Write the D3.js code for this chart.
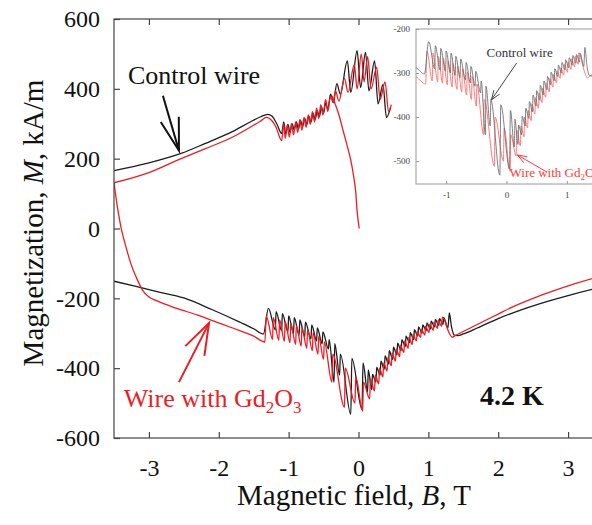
<!DOCTYPE html>
<html>
<head>
<meta charset="utf-8">
<script src="https://cdn.jsdelivr.net/npm/d3@7"></script>
</head>
<body style="margin:0">
<svg id="chart" width="592" height="525"></svg>
<script>
// axis ticks
const bTicks = [-3, -2, -1, 0, 1, 2, 3];
const mTicks = [-600, -400, -200, 0, 200, 400, 600];
const insetBTicks = [-1, 0, 1];
const insetMTicks = [-500, -400, -300, -200];

// upper branches [B (T), M (kA/m)]
const controlUpper = [
  [-3.5,166],[-3.0,188],[-2.54,215],[-2.2,243],[-1.8,278],[-1.55,305],[-1.4,320],[-1.3,327],[-1.24,322],[-1.17,300],[-1.1,272],
  [-1.07,305],[-1.04,270],[-1.01,298],[-0.98,275],[-0.95,300],[-0.92,282],[-0.89,305],[-0.86,285],[-0.83,310],[-0.80,292],
  [-0.77,316],[-0.74,298],[-0.71,322],[-0.68,305],[-0.65,330],[-0.62,312],[-0.59,338],[-0.56,320],[-0.53,348],[-0.50,330],
  [-0.47,360],[-0.44,340],[-0.40,385],[-0.36,360],[-0.31,415],[-0.26,385],[-0.16,480],[-0.11,390],[-0.02,509],[0.03,404],
  [0.10,504],[0.15,394],[0.23,480],[0.28,357],[0.35,413],[0.40,318],[0.46,347]
];
const gdUpper = [
  [-3.5,131],[-3.0,160],[-2.54,200],[-2.2,228],[-1.8,262],[-1.55,290],[-1.4,308],[-1.32,318],[-1.26,313],[-1.18,290],[-1.1,252],
  [-1.07,300],[-1.05,258],[-1.02,295],[-0.99,262],[-0.96,300],[-0.93,268],[-0.90,305],[-0.87,275],[-0.84,312],[-0.81,282],
  [-0.78,318],[-0.75,290],[-0.72,325],[-0.69,298],[-0.66,335],[-0.63,305],[-0.60,345],[-0.57,315],[-0.54,355],[-0.51,325],
  [-0.47,370],[-0.44,335],[-0.40,378],[-0.36,362],[-0.33,395],[-0.28,365],[-0.20,430],[-0.15,390],[-0.06,470],[-0.02,400],
  [0.04,500],[0.08,420],[0.13,492],[0.18,400],[0.26,462],[0.31,370],[0.38,420],[0.43,335],[0.47,355]
];
const gdVirgin = [
  [-0.38,380],[-0.34,360],[-0.28,325],[-0.22,280],[-0.16,235],[-0.11,195],[-0.07,150],[-0.04,105],[-0.02,50],[0.01,0]
];

// lower branches
const controlLower = [
  [-3.5,-151],[-3.2,-165],[-2.9,-180],[-2.5,-199],[-2.1,-232],[-1.7,-268],[-1.5,-287],[-1.36,-302],
  [-1.29,-229],[-1.19,-290],[-1.18,-238],[-1.10,-293],[-1.09,-244],[-1.01,-296],[-1.00,-250],[-0.93,-300],[-0.92,-255],
  [-0.85,-305],[-0.84,-262],[-0.77,-310],[-0.76,-268],[-0.68,-316],[-0.67,-276],[-0.60,-322],[-0.59,-285],[-0.52,-330],
  [-0.51,-296],[-0.43,-345],[-0.42,-318],
  [-0.35,-440],[-0.34,-330],[-0.27,-420],[-0.26,-360],[-0.11,-532],[-0.095,-372],[0.05,-518],[0.065,-385],[0.13,-468],[0.14,-405],
  [0.19,-462],[0.20,-418],[0.25,-440],[0.26,-398],[0.31,-420],[0.32,-380],[0.37,-403],[0.38,-365],[0.43,-388],[0.44,-350],
  [0.49,-375],[0.50,-340],[0.55,-362],[0.56,-328],[0.61,-350],[0.62,-318],[0.67,-338],[0.68,-308],[0.73,-327],[0.74,-298],
  [0.79,-318],[0.80,-290],[0.85,-308],[0.86,-282],[0.91,-300],[0.92,-276],[0.97,-293],[0.98,-270],[1.03,-288],[1.04,-265],
  [1.09,-282],[1.10,-260],[1.15,-278],[1.16,-258],[1.21,-275],[1.22,-255],[1.28,-285],[1.30,-242],[1.33,-280],[1.37,-305],
  [1.42,-307],[1.5,-302],[1.7,-285],[2.0,-258],[2.3,-235],[2.6,-215],[3.0,-192],[3.35,-174],[3.5,-167]
];
const gdLower = [
  [-3.5,131],[-3.45,60],[-3.4,3],[-3.33,-52],[-3.26,-100],[-3.17,-145],[-3.09,-177],[-3.0,-196],[-2.9,-206],[-2.6,-229],
  [-2.3,-248],[-2.1,-263],[-1.8,-285],[-1.5,-308],[-1.34,-325],
  [-1.32,-250],[-1.23,-318],[-1.22,-255],[-1.14,-320],[-1.13,-262],[-1.06,-323],[-1.05,-266],[-0.98,-327],[-0.97,-272],
  [-0.90,-332],[-0.89,-278],[-0.82,-337],[-0.81,-284],[-0.74,-343],[-0.73,-290],[-0.66,-350],[-0.65,-298],[-0.58,-360],
  [-0.57,-308],[-0.50,-375],[-0.49,-325],
  [-0.38,-440],[-0.37,-360],[-0.20,-512],[-0.19,-400],[-0.05,-500],[-0.04,-425],[0.06,-523],[0.07,-440],[0.16,-488],[0.17,-430],
  [0.23,-465],[0.24,-420],[0.29,-445],[0.30,-400],[0.35,-425],[0.36,-385],[0.41,-408],[0.42,-370],[0.47,-393],[0.48,-356],
  [0.53,-380],[0.54,-345],[0.59,-367],[0.60,-334],[0.65,-355],[0.66,-322],[0.71,-343],[0.72,-312],[0.77,-332],[0.78,-303],
  [0.83,-322],[0.84,-295],[0.89,-312],[0.90,-288],[0.95,-305],[0.96,-280],[1.01,-298],[1.02,-274],[1.07,-292],[1.08,-268],
  [1.13,-286],[1.14,-262],[1.19,-280],[1.20,-254],[1.30,-300],[1.34,-311],[1.4,-305],[1.6,-285],[1.8,-265],[2.0,-245],
  [2.2,-225],[2.5,-200],[2.8,-178],[3.1,-158],[3.35,-143],[3.5,-135]
];

const BLACK = "#1c1c1c", RED = "#ec1c24";
const SERIF = '"Liberation Serif", serif';
const fmt = d => String(d); // plain hyphen minus as in the original

const svg = d3.select("#chart");

svg.append("rect").attr("width", 592).attr("height", 525).attr("fill", "#fff");

// main plot scales
const x = d3.scaleLinear().domain([-3.5, 3.5]).range([114, 603]);
const y = d3.scaleLinear().domain([-600, 600]).range([438, 19]);

svg.append("clipPath").attr("id", "mainClip")
  .append("rect").attr("x", 114).attr("y", 19).attr("width", 489).attr("height", 419);

const line = d3.line().x(d => x(d[0])).y(d => y(d[1])).curve(d3.curveMonotoneX);
const curves = svg.append("g").attr("clip-path", "url(#mainClip)")
    .attr("fill", "none").attr("stroke-width", 1.3).attr("stroke-linejoin", "round");

curves.append("path").attr("d", line(controlUpper)).attr("stroke", BLACK);
curves.append("path").attr("d", line(controlLower)).attr("stroke", BLACK);
curves.append("path").attr("d", line(gdUpper)).attr("stroke", RED);
curves.append("path").attr("d", line(gdLower)).attr("stroke", RED);
curves.append("path").attr("d", line(gdVirgin)).attr("stroke", RED);

// frame + axes
svg.append("rect").attr("x", 114).attr("y", 19).attr("width", 489).attr("height", 419)
    .attr("fill", "none").attr("stroke", "#444").attr("stroke-width", 1.2);

const axisStyle = g => {
  g.attr("font-family", SERIF);
  g.select(".domain").remove();
  g.selectAll(".tick line").attr("stroke", "#444").attr("stroke-width", 1.2);
  g.selectAll("text").attr("font-size", 24).attr("fill", "#111").attr("font-family", SERIF);
};

svg.append("g").attr("transform", "translate(114,0)")
  .call(d3.axisLeft(y).tickValues(mTicks).tickSize(-6).tickPadding(14).tickFormat(fmt))
  .call(axisStyle);

svg.append("g").attr("transform", "translate(0,438)")
  .call(d3.axisBottom(x).tickValues(bTicks).tickSize(-6).tickPadding(21).tickFormat(fmt))
  .call(axisStyle);

svg.append("g").attr("transform", "translate(0,19)")
  .call(d3.axisTop(x).tickValues(bTicks).tickSize(-6).tickFormat(""))
  .call(axisStyle);

// axis titles
const yTitle = svg.append("text")
    .attr("transform", "translate(43,223) rotate(-90)")
    .attr("text-anchor", "middle").attr("font-size", 29).attr("fill", "#111").attr("font-family", SERIF);
yTitle.append("tspan").text("Magnetization, ");
yTitle.append("tspan").attr("font-style", "italic").text("M");
yTitle.append("tspan").text(", kA/m");

const xTitle = svg.append("text")
    .attr("x", 354).attr("y", 505)
    .attr("text-anchor", "middle").attr("font-size", 29).attr("fill", "#111").attr("font-family", SERIF);
xTitle.append("tspan").text("Magnetic field, ");
xTitle.append("tspan").attr("font-style", "italic").text("B");
xTitle.append("tspan").text(", T");

// arrow helper: tail/tip in data coords, open V head
function arrow(g, sx, sy, tail, tip, color, w, headLen, headAng) {
  const x1 = sx(tail[0]), y1 = sy(tail[1]), x2 = sx(tip[0]), y2 = sy(tip[1]);
  const a = Math.atan2(y1 - y2, x1 - x2);
  g.append("line").attr("x1", x1).attr("y1", y1).attr("x2", x2).attr("y2", y2)
    .attr("stroke", color).attr("stroke-width", w);
  const h = [a - headAng, a + headAng].map(t => [x2 + headLen * Math.cos(t), y2 + headLen * Math.sin(t)]);
  g.append("path").attr("d", `M${h[0]}L${x2},${y2}L${h[1]}`)
    .attr("fill", "none").attr("stroke", color).attr("stroke-width", w).attr("stroke-linejoin", "miter");
}

// main annotations
svg.append("text").attr("x", x(-3.3)).attr("y", y(414)).attr("font-family", SERIF)
    .attr("font-size", 26).attr("fill", "#111").text("Control wire");
arrow(svg, x, y, [-2.8, 380], [-2.57, 223], "#111", 2, 34, 0.28);

const gdLabel = svg.append("text").attr("x", x(-3.36)).attr("y", y(-511)).attr("font-family", SERIF)
    .attr("font-size", 26).attr("fill", RED);
gdLabel.append("tspan").text("Wire with Gd");
gdLabel.append("tspan").attr("font-size", 17).attr("dy", 6).text("2");
gdLabel.append("tspan").attr("dy", -6).text("O");
gdLabel.append("tspan").attr("font-size", 17).attr("dy", 6).text("3");
arrow(svg, x, y, [-2.57, -440], [-2.14, -271], RED, 2, 33, 0.33);

svg.append("text").attr("x", x(1.74)).attr("y", y(-506)).attr("font-family", SERIF)
    .attr("font-size", 28).attr("font-weight", "bold").attr("fill", "#111").text("4.2 K");

// inset
const ix = d3.scaleLinear().domain([-1.5, 1.5]).range([416, 597]);
const iy = d3.scaleLinear().domain([-552, -200]).range([184, 29]);
const inset = svg.append("g");

inset.append("rect").attr("x", 416).attr("y", 29).attr("width", 181).attr("height", 155)
    .attr("fill", "#fff").attr("stroke", "none");

inset.append("clipPath").attr("id", "insetClip")
  .append("rect").attr("x", 416).attr("y", 29).attr("width", 181).attr("height", 155);

const iline = d3.line().x(d => ix(d[0])).y(d => iy(d[1])).curve(d3.curveMonotoneX);
const icurves = inset.append("g").attr("clip-path", "url(#insetClip)")
    .attr("fill", "none").attr("stroke-width", 1).attr("stroke-linejoin", "round");
icurves.append("path").attr("d", iline(gdLower)).attr("stroke", "#ff7a7a");
icurves.append("path").attr("d", iline(controlLower)).attr("stroke", "#6a6a6a").attr("stroke-opacity", 0.85);

inset.append("rect").attr("x", 416).attr("y", 29).attr("width", 181).attr("height", 155)
    .attr("fill", "none").attr("stroke", "#9a9a9a").attr("stroke-width", 1);

const insetAxisStyle = g => {
  g.attr("font-family", SERIF);
  g.select(".domain").remove();
  g.selectAll(".tick line").attr("stroke", "#9a9a9a");
  g.selectAll("text").attr("font-size", 9).attr("fill", "#444").attr("font-family", SERIF);
};
inset.append("g").attr("transform", "translate(416,0)")
  .call(d3.axisLeft(iy).tickValues(insetMTicks).tickSize(-3).tickPadding(6).tickFormat(fmt))
  .call(insetAxisStyle);
inset.append("g").attr("transform", "translate(0,184)")
  .call(d3.axisBottom(ix).tickValues(insetBTicks).tickSize(-3).tickPadding(8).tickFormat(fmt))
  .call(insetAxisStyle);

inset.append("text").attr("x", ix(-0.33)).attr("y", iy(-264)).attr("font-family", SERIF)
    .attr("font-size", 13).attr("fill", "#333").text("Control wire");
arrow(inset, ix, iy, [0.17, -277], [-0.25, -361], "#444", 1, 10, 0.35);

// inset label runs off the right edge, as in the original
const igd = inset.append("text").attr("x", ix(0.05)).attr("y", iy(-536)).attr("font-family", SERIF)
    .attr("font-size", 13).attr("fill", "#ff3a3a");
igd.append("tspan").text("Wire with Gd");
igd.append("tspan").attr("font-size", 9).attr("dy", 3).text("2");
igd.append("tspan").attr("dy", -3).text("O");
igd.append("tspan").attr("font-size", 9).attr("dy", 3).text("3");
arrow(inset, ix, iy, [0.67, -525], [0.18, -486], "#ff3a3a", 1, 10, 0.35);
</script>
</body>
</html>
